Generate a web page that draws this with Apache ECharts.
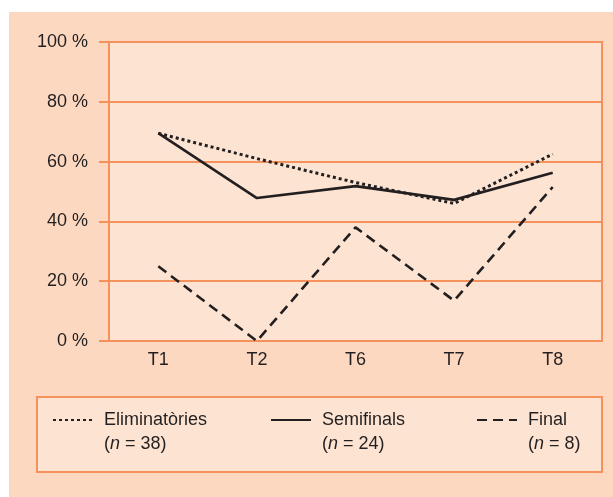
<!DOCTYPE html>
<html>
<head>
<meta charset="utf-8">
<script src="https://cdn.jsdelivr.net/npm/echarts@6/dist/echarts.min.js"></script>
<style>
  html, body { margin: 0; padding: 0; background: #ffffff; }
  #main { width: 613px; height: 497px; }
</style>
</head>
<body>
<div id="main"></div>
<script>
var categories = ['T1', 'T2', 'T6', 'T7', 'T8'];
var eliminatories = [69.5, 61, 53, 46, 62.5];
var semifinals = [69.5, 47.8, 51.8, 47.2, 56.3];
var finals = [25, 0, 38, 13.5, 51.5];
var yTicks = [0, 20, 40, 60, 80, 100];

var seriesNames = ['Eliminatòries', 'Semifinals', 'Final'];
var seriesCounts = [38, 24, 8];

var orange = '#f5915c';
var outerBg = '#fcd8c0';
var innerBg = '#fde4d2';
var ink = '#231f20';
var font = '"Liberation Sans", Arial, sans-serif';

var chart = echarts.init(document.getElementById('main'));

// one legend per series so each can sit where the original puts it
function legendFor(idx, left) {
  return {
    data: [seriesNames[idx]],
    left: left,
    top: 384,
    padding: 0,
    itemWidth: 40,
    itemHeight: 14,
    selectedMode: false,
    itemStyle: { color: 'rgba(0,0,0,0)', borderWidth: 0, opacity: 0 },
    formatter: function(name) {
      return ' \n' + name + '\n({i|n} = ' + seriesCounts[idx] + ')';
    },
    textStyle: {
      color: ink,
      fontFamily: font,
      fontSize: 18,
      lineHeight: 24,
      padding: [0, 0, 0, 6],
      rich: {
        i: { fontStyle: 'italic', color: ink, fontFamily: font, fontSize: 18, lineHeight: 24 }
      }
    }
  };
}

var option = {
  animation: false,
  backgroundColor: '#ffffff',
  textStyle: { fontFamily: font },
  graphic: [
    {
      type: 'rect', z: -10, silent: true,
      shape: { x: 9, y: 12, width: 604, height: 485 },
      style: { fill: outerBg }
    },
    {
      type: 'rect', z: -5, silent: true,
      shape: { x: 37, y: 397, width: 565, height: 75 },
      style: { fill: innerBg, stroke: orange, lineWidth: 2 }
    }
  ],
  legend: [legendFor(0, 52), legendFor(1, 270), legendFor(2, 476)],
  grid: {
    left: 109,
    right: 11,
    top: 42,
    bottom: 156,
    show: true,
    backgroundColor: innerBg,
    borderColor: orange,
    borderWidth: 2
  },
  xAxis: {
    type: 'category',
    data: categories,
    boundaryGap: true,
    axisLine: { lineStyle: { color: orange, width: 2 } },
    axisTick: { length: 15, lineStyle: { color: orange, width: 2 } },
    axisLabel: { color: ink, fontSize: 18, margin: 10, fontFamily: font }
  },
  yAxis: {
    type: 'value',
    min: yTicks[0],
    max: yTicks[yTicks.length - 1],
    interval: 20,
    axisLine: { show: true, lineStyle: { color: orange, width: 2 } },
    axisTick: { show: true, length: 10, lineStyle: { color: orange, width: 2 } },
    splitLine: { lineStyle: { color: orange, width: 2 } },
    axisLabel: { color: ink, fontSize: 18, margin: 21, fontFamily: font, formatter: '{value} %' }
  },
  series: [
    {
      name: seriesNames[0], type: 'line', data: eliminatories, symbol: 'none',
      lineStyle: { color: ink, width: 3, type: [3, 3] },
      itemStyle: { color: ink }
    },
    {
      name: seriesNames[1], type: 'line', data: semifinals, symbol: 'none',
      lineStyle: { color: ink, width: 2.6, type: 'solid' },
      itemStyle: { color: ink }
    },
    {
      name: seriesNames[2], type: 'line', data: finals, symbol: 'none',
      lineStyle: { color: ink, width: 2.6, type: [10, 6] },
      itemStyle: { color: ink }
    }
  ]
};

chart.setOption(option);
</script>
</body>
</html>
